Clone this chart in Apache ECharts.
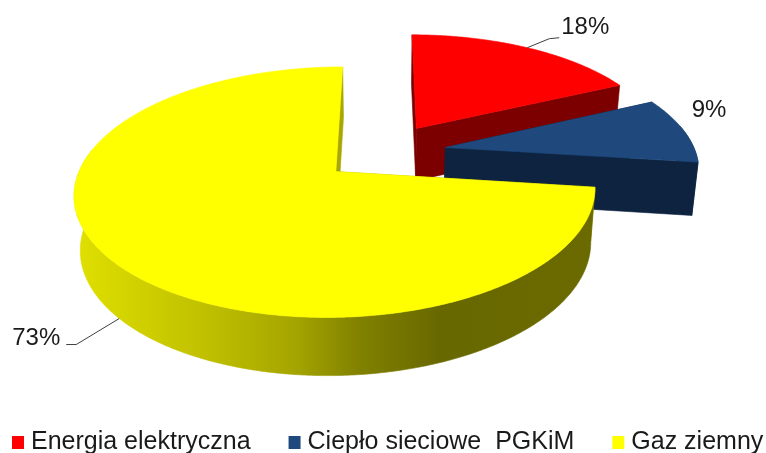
<!DOCTYPE html>
<html>
<head>
<meta charset="utf-8">
<style>html,body{margin:0;padding:0;background:#fff}#chart{width:766px;height:453px}</style>
<script src="https://cdn.jsdelivr.net/npm/echarts@6/dist/echarts.min.js"></script>
</head>
<body>
<div id="chart"></div>
<script>
// Shares of heat sources, in percent
const categories = ['Energia elektryczna', 'Ciepło sieciowe  PGKiM', 'Gaz ziemny'];
const shares = [18, 9, 73];
const topColors = ['#ff0000', '#1f497d', '#ffff00'];
const wallColors = ['#7c0000', '#0e2340', '#a8a800'];

// Perspective camera for the tilted disc (world radius = 1)
const view = { vx: 384, yc: 152, radius: 250, depthScale: 115.5, k: 0.16, height: 53, nadir: 0.02, explode: 0.25 };

const total = shares.reduce((a, b) => a + b, 0);
const spans = [];
shares.reduce((start, v) => {
  const end = start + v / total * 2 * Math.PI;
  spans.push([start, end]);
  return end;
}, 0);

// Project a point of the disc (clockwise angle from 12 o'clock) to the screen
function project(index, angle, r, lower) {
  const mid = (spans[index][0] + spans[index][1]) / 2;
  const X = view.explode * Math.sin(mid) + r * Math.sin(angle);
  const D = -view.explode * Math.cos(mid) - r * Math.cos(angle);
  const s = 1 / (1 - view.k * D);
  let x = view.vx + X * view.radius * s;
  let y = view.yc + view.depthScale * D * s;
  if (lower) {
    x -= (x - view.vx) * view.nadir;
    y += view.height * Math.pow(s, 0.45);
  }
  return [x, y];
}

function arcAngles(a0, a1, keep) {
  const out = [];
  const n = Math.max(2, Math.ceil((a1 - a0) / 0.01));
  for (let i = 0; i <= n; i++) {
    const a = a0 + (a1 - a0) * i / n;
    if (!keep || keep(a)) out.push(a);
  }
  return out;
}

// Horizontal shading of the yellow slice's rim
const yellowWallFill = {
  type: 'linear', global: true, x: 76, y: 0, x2: 595, y2: 0,
  colorStops: [
    { offset: 0, color: '#e0e000' },
    { offset: 0.12, color: '#d0d000' },
    { offset: 0.25, color: '#c0c000' },
    { offset: 0.42, color: '#a5a500' },
    { offset: 0.55, color: '#808000' },
    { offset: 0.7, color: '#686800' },
    { offset: 1, color: '#6a6a00' }
  ]
};

// Leader line bends and text offsets relative to each slice's rim point
const labelLayout = [
  { lower: false, bend: [[22, -9], [32, -10]], text: [58, -20] },
  { lower: false, bend: null, text: [0, 0], anchor: [709, 110] },
  { lower: true, bend: [[-43, 26], [-53, 26]], text: [-83, 20] }
];

function sliceShapes(index) {
  const [a0, a1] = spans[index];
  const children = [];
  const poly = (points, fill, stroke) => children.push({
    type: 'polygon',
    shape: { points },
    style: { fill, stroke: stroke || fill, lineWidth: 0.6 }
  });
  const wallFill = index === 2 ? yellowWallFill : wallColors[index];

  // Radial cut walls
  [a0, a1].forEach(a => {
    poly([project(index, a, 0), project(index, a, 1), project(index, a, 1, true), project(index, a, 0, true)],
      wallColors[index]);
  });

  // Rim wall, front-facing part only
  const front = arcAngles(a0, a1, a => Math.cos(a) < 0.2);
  if (front.length > 1) {
    poly(front.map(a => project(index, a, 1))
      .concat(front.slice().reverse().map(a => project(index, a, 1, true))), wallFill);
  }

  // Top face
  poly([project(index, a0, 0)].concat(arcAngles(a0, a1).map(a => project(index, a, 1))), topColors[index]);

  // Percentage label with leader line
  const lay = labelLayout[index];
  const p = project(index, (a0 + a1) / 2, 1, lay.lower);
  if (lay.bend) {
    children.push({
      type: 'polyline',
      shape: { points: [p].concat(lay.bend.map(b => [p[0] + b[0], p[1] + b[1]])) },
      style: { fill: null, stroke: '#404040', lineWidth: 1 }
    });
  }
  const tp = lay.anchor ? lay.anchor : [p[0] + lay.text[0], p[1] + lay.text[1]];
  children.push({
    type: 'text',
    style: {
      x: tp[0], y: tp[1], text: Math.round(shares[index] / total * 100) + '%',
      font: '24px "Liberation Sans", Arial, sans-serif', fill: '#1a1a1a',
      align: 'center', verticalAlign: 'middle'
    }
  });
  return { type: 'group', children };
}

const chart = echarts.init(document.getElementById('chart'), null, { renderer: 'canvas' });
chart.setOption({
  animation: false,
  backgroundColor: '#ffffff',
  color: topColors,
  legend: {
    left: 12, top: 430, itemGap: 38, itemWidth: 12, itemHeight: 13, padding: 0,
    icon: 'rect',
    data: categories,
    textStyle: { fontFamily: '"Liberation Sans", Arial, sans-serif', fontSize: 25, color: '#1a1a1a', padding: [0, 0, 0, 2] }
  },
  series: categories.map((name, i) => ({
    type: 'custom',
    name,
    coordinateSystem: 'none',
    data: [[shares[i]]],
    itemStyle: { color: topColors[i] },
    silent: true,
    renderItem: () => sliceShapes(i)
  }))
});
</script>
</body>
</html>
